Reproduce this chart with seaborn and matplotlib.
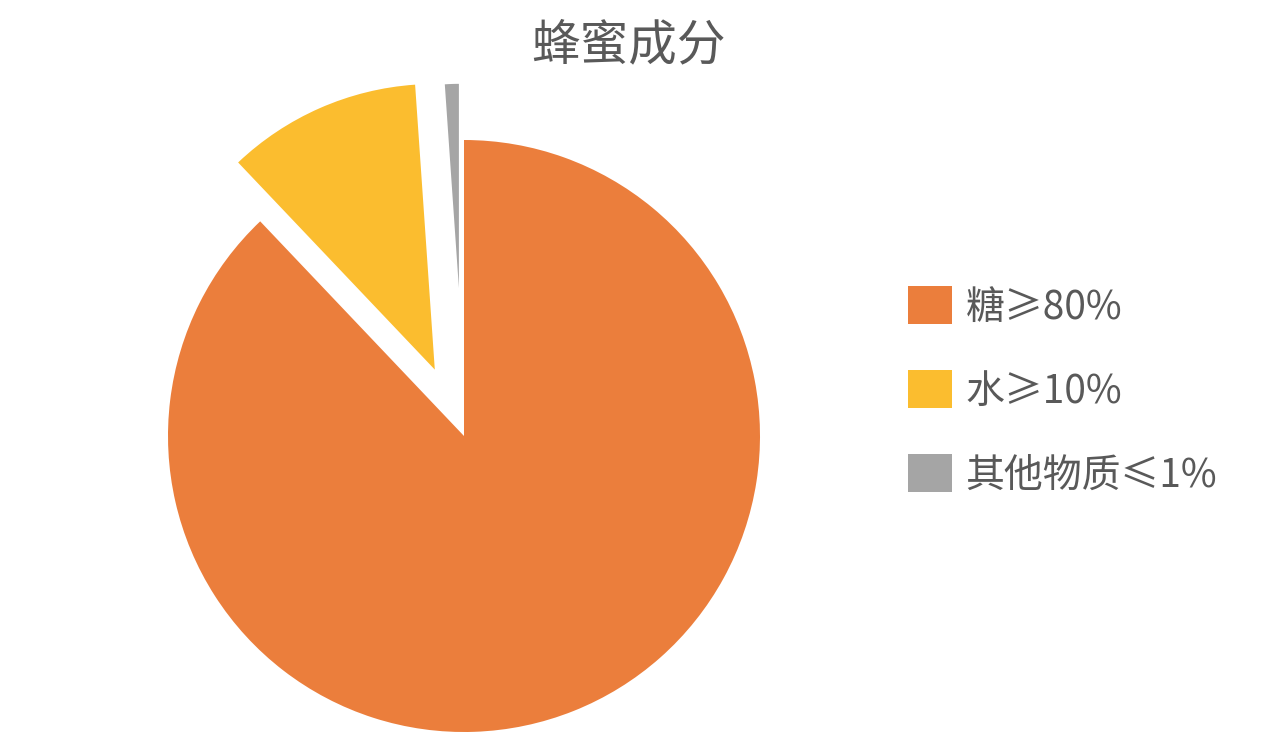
import matplotlib
matplotlib.use("Agg")
import matplotlib.pyplot as plt
import seaborn as sns

# ---- data ----
labels = ["糖≥80%", "水≥10%", "其他物质≤1%"]
values = [80, 10, 1]
colors = ["#EB7E3C", "#FBBD2F", "#A5A5A5"]
explode = [0.0, 0.245, 0.5]
title = "蜂蜜成分"

sns.set_theme(style="white")
plt.rcParams["font.family"] = ["Noto Sans CJK SC", "DejaVu Sans"]

W, H = 1264, 748
fig = plt.figure(figsize=(W / 100, H / 100), dpi=100)

# pie axes: center at (464, 436) px, radius 296 px
cx, cy, R = 464, 436, 296
L = 1.25
half = L * R
ax = fig.add_axes([(cx - half) / W, (H - cy - half) / H, 2 * half / W, 2 * half / H])

wedges, _ = ax.pie(values, colors=sns.color_palette(colors), explode=explode,
                   startangle=90, counterclock=False, radius=1.0,
                   wedgeprops=dict(linewidth=0))
# slice radii as in the reference
wedges[1].set_radius(0.965)
wedges[2].set_radius(0.69)
ax.set_xlim(-L, L)
ax.set_ylim(-L, L)
ax.set_aspect("equal")
ax.axis("off")

fig.text(628 / W, 1 - 46 / H, title, ha="center", va="center",
         fontsize=35, color="#595959")

leg = fig.legend(wedges, labels, loc="center left",
                 bbox_to_anchor=(908 / W, 1 - 391 / H),
                 frameon=False, fontsize=28, labelcolor="#595959",
                 handlelength=1.13, handleheight=1.13, handletextpad=0.35,
                 labelspacing=1.1, borderpad=0, borderaxespad=0)

fig.savefig("out.png", dpi=100, facecolor="white")
